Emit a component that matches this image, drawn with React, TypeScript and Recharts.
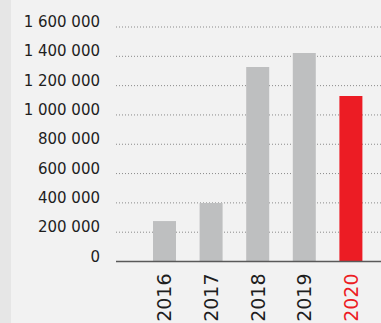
import { BarChart, Bar, XAxis, YAxis, CartesianGrid, Cell } from "recharts";

const years = ["2016", "2017", "2018", "2019", "2020"];
const values = [276000, 399000, 1327000, 1422000, 1129000];
const yTicks = [0, 200000, 400000, 600000, 800000, 1000000, 1200000, 1400000, 1600000];
const highlightYear = "2020";

const GRAY = "#bebfc0";
const RED = "#ec1c24";
const FONT = "'DejaVu Sans', sans-serif";

const data = years.map((year, i) => ({ year, value: values[i] }));

// thousands separated by a plain space, e.g. 1 600 000
function formatNumber(v: number): string {
  return String(v).replace(/\B(?=(\d{3})+(?!\d))/g, " ");
}

function YTick({ x, y, payload }: { x?: number; y?: number; payload?: { value: number } }) {
  if (x == null || y == null || !payload) return null;
  return (
    <text x={x} y={y} dy={-5} dominantBaseline="central" textAnchor="end" fontSize={15} fontFamily={FONT} fill="#1e1e1e">
      {formatNumber(payload.value)}
    </text>
  );
}

function XTick({ x, y, payload }: { x?: number; y?: number; payload?: { value: string } }) {
  if (x == null || y == null || !payload) return null;
  const isHighlight = payload.value === highlightYear;
  return (
    <text
      transform={`translate(${x},${y}) rotate(-90)`}
      textAnchor="end"
      dominantBaseline="central"
      fontSize={19}
      fontFamily={FONT}
      fill={isHighlight ? RED : "#1e1e1e"}
    >
      {payload.value}
    </text>
  );
}

export default function App() {
  return (
    <div style={{ position: "absolute", left: 0, top: 0, width: 381, height: 323, background: "#f2f2f2", overflow: "hidden" }}>
      <div style={{ position: "absolute", left: 0, top: 0, width: 11, height: 323, background: "#e6e6e6" }} />
      <BarChart width={381} height={323} data={data} margin={{ top: 27, right: 0, bottom: 0, left: 0 }}>
        <CartesianGrid vertical={false} stroke="#8a8a8a" strokeDasharray="1 2" />
        <YAxis
          domain={[0, 1600000]}
          ticks={yTicks}
          width={116}
          tickSize={0}
          tickMargin={16}
          axisLine={false}
          tickLine={false}
          tick={<YTick />}
          interval={0}
        />
        <XAxis
          dataKey="year"
          height={61.5}
          padding={{ left: 25, right: 7 }}
          axisLine={{ stroke: "#5a5a5a", strokeWidth: 1.5 }}
          tickLine={false}
          tickSize={0}
          tickMargin={12}
          tick={<XTick />}
          interval={0}
        />
        <Bar dataKey="value" barSize={23} isAnimationActive={false}>
          {data.map((d) => (
            <Cell key={d.year} fill={d.year === highlightYear ? RED : GRAY} />
          ))}
        </Bar>
      </BarChart>
    </div>
  );
}
